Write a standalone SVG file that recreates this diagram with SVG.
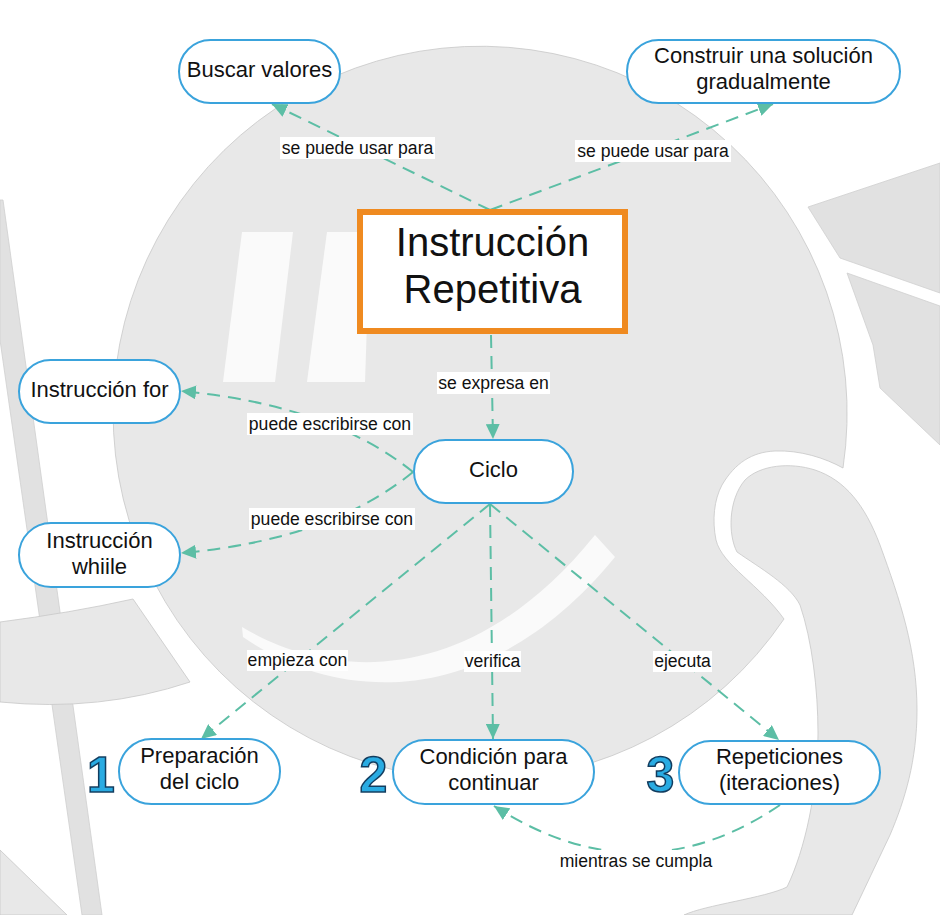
<svg xmlns="http://www.w3.org/2000/svg" width="940" height="915" viewBox="0 0 940 915">
<defs>
<style>
.bg{fill:#e8e8e8;stroke:#c8c8c8;stroke-width:0.8}
.bg2{fill:#e1e1e1;stroke:#cfcfcf;stroke-width:0.8}
.hl{fill:#fafafa}
.node rect{fill:#fff;stroke:#3aa3dc;stroke-width:2}
.nt{font-family:"Liberation Sans",Arial,sans-serif;font-size:22px;fill:#111;text-anchor:middle}
.title{font-family:"Liberation Sans",Arial,sans-serif;font-size:40px;fill:#111;text-anchor:middle}
.lbl rect{fill:#fff}
.lbl text{font-family:"Liberation Sans",Arial,sans-serif;font-size:17.6px;fill:#111;text-anchor:middle}
.conn{fill:none;stroke:#5cbea5;stroke-width:2;stroke-dasharray:13 8;marker-end:url(#ah)}
.num{font-family:"Liberation Sans",Arial,sans-serif;font-size:50px;font-weight:bold;fill:#29abe2;stroke:#123c5e;stroke-width:1.5;text-anchor:middle}
</style>
<marker id="ah" viewBox="0 0 15 14" refX="15" refY="7" markerWidth="15" markerHeight="14" markerUnits="userSpaceOnUse" orient="auto">
<path d="M0,0 L15,7 L0,14 z" fill="#5cbea5"/>
</marker>
</defs>
<rect width="940" height="915" fill="#fff"/>
<g id="background">
<polygon class="bg2" points="0,200 3,200 102,915 82,915 0,340"/>
<path class="bg" d="M0,622 Q70,613 133,599 L190,682 Q100,712 0,702 Z"/>
<polygon class="bg" points="0,850 67,915 0,915"/>
<polygon class="bg2" points="808,207 940,163 940,293 840,258"/>
<polygon class="bg2" points="847,273 940,306 940,445 880,388 873,345"/>
<path class="bg" d="M843,468 A367,367 0 1 0 784,619 C760,585 722,565 716,540 C712,520 714,500 722,485 C735,463 752,452 775,451 C800,450 825,458 843,468 Z"/>
<path class="bg" d="M737,552 C728,535 728,500 745,480 C760,465 790,462 815,470 C845,480 865,505 880,545 C900,600 917,650 917,710 C917,760 905,800 890,835 L852,915 L684,915 C705,905 765,898 787,887 C805,850 818,790 818,733 C818,690 812,640 800,605 C790,585 760,568 737,552 Z"/>
<polygon class="hl" points="242,232 293,232 275,382 223,382"/>
<polygon class="hl" points="327,232 370,232 365,382 307,382"/>
<path class="hl" d="M242,627 C330,680 470,690 595,535 L615,557 C490,710 340,705 243,637 Z"/>
</g>
<g id="connectors">
<path class="conn" d="M490,210 L272,104"/>
<path class="conn" d="M490,210 L773,104"/>
<path class="conn" d="M491,335 L493,439"/>
<path class="conn" d="M413,472 Q330,405 181,391"/>
<path class="conn" d="M413,472 Q330,540 181,553"/>
<path class="conn" d="M490,504 L201,739"/>
<path class="conn" d="M490,504 L493,739"/>
<path class="conn" d="M490,504 L779,740"/>
<path class="conn" d="M780,805 Q640,900 494,806"/>
</g>
<g id="labels">
<g class="lbl"><rect x="280" y="137" width="155" height="22"/><text x="357.5" y="154">se puede usar para</text></g>
<g class="lbl"><rect x="575" y="140" width="156" height="22"/><text x="653" y="157">se puede usar para</text></g>
<g class="lbl"><rect x="437" y="372" width="113" height="22"/><text x="493.5" y="389">se expresa en</text></g>
<g class="lbl"><rect x="247" y="413" width="166" height="22"/><text x="330" y="430">puede escribirse con</text></g>
<g class="lbl"><rect x="249" y="508" width="166" height="22"/><text x="332" y="525">puede escribirse con</text></g>
<g class="lbl"><rect x="247" y="650" width="101" height="21"/><text x="297.5" y="666">empieza con</text></g>
<g class="lbl"><rect x="464" y="651" width="57" height="21"/><text x="492.5" y="667">verifica</text></g>
<g class="lbl"><rect x="653" y="651" width="59" height="21"/><text x="682.5" y="667">ejecuta</text></g>
<g class="lbl"><rect x="558" y="850" width="155" height="22"/><text x="636" y="867">mientras se cumpla</text></g>
</g>
<g id="n-buscar" class="node"><rect x="179" y="40" width="161" height="63" rx="31.5"/><text class="nt" x="259.5" y="77">Buscar valores</text></g>
<g id="n-construir" class="node"><rect x="627" y="40" width="273" height="63" rx="31.5"/><text class="nt" x="763.5" y="63">Construir una solución</text><text class="nt" x="763.5" y="89">gradualmente</text></g>
<g id="n-instruccion"><rect x="360" y="212" width="265" height="119" fill="#fff" stroke="#ef8a20" stroke-width="6"/><text class="title" x="492.5" y="256">Instrucción</text><text class="title" x="492.5" y="303">Repetitiva</text></g>
<g id="n-for" class="node"><rect x="19" y="360" width="161" height="63" rx="31.5"/><text class="nt" x="99.5" y="397">Instrucción for</text></g>
<g id="n-ciclo" class="node"><rect x="414" y="440" width="159" height="63" rx="31.5"/><text class="nt" x="493.5" y="477">Ciclo</text></g>
<g id="n-while" class="node"><rect x="19" y="523" width="161" height="64" rx="32"/><text class="nt" x="99.5" y="548">Instrucción</text><text class="nt" x="99.5" y="574">whiile</text></g>
<g id="n-prep" class="node"><rect x="119" y="739" width="161" height="65" rx="32.5"/><text class="nt" x="199.5" y="763">Preparación</text><text class="nt" x="199.5" y="789">del ciclo</text></g>
<g id="n-cond" class="node"><rect x="393" y="740" width="201" height="64" rx="32"/><text class="nt" x="493.5" y="764">Condición para</text><text class="nt" x="493.5" y="790">continuar</text></g>
<g id="n-rep" class="node"><rect x="679" y="741" width="201" height="63" rx="31.5"/><text class="nt" x="779.5" y="764">Repeticiones</text><text class="nt" x="779.5" y="790">(iteraciones)</text></g>
<g id="numbers">
<text class="num" x="101" y="792">1</text>
<text class="num" x="373.5" y="792">2</text>
<text class="num" x="660.5" y="792">3</text>
</g>
</svg>
